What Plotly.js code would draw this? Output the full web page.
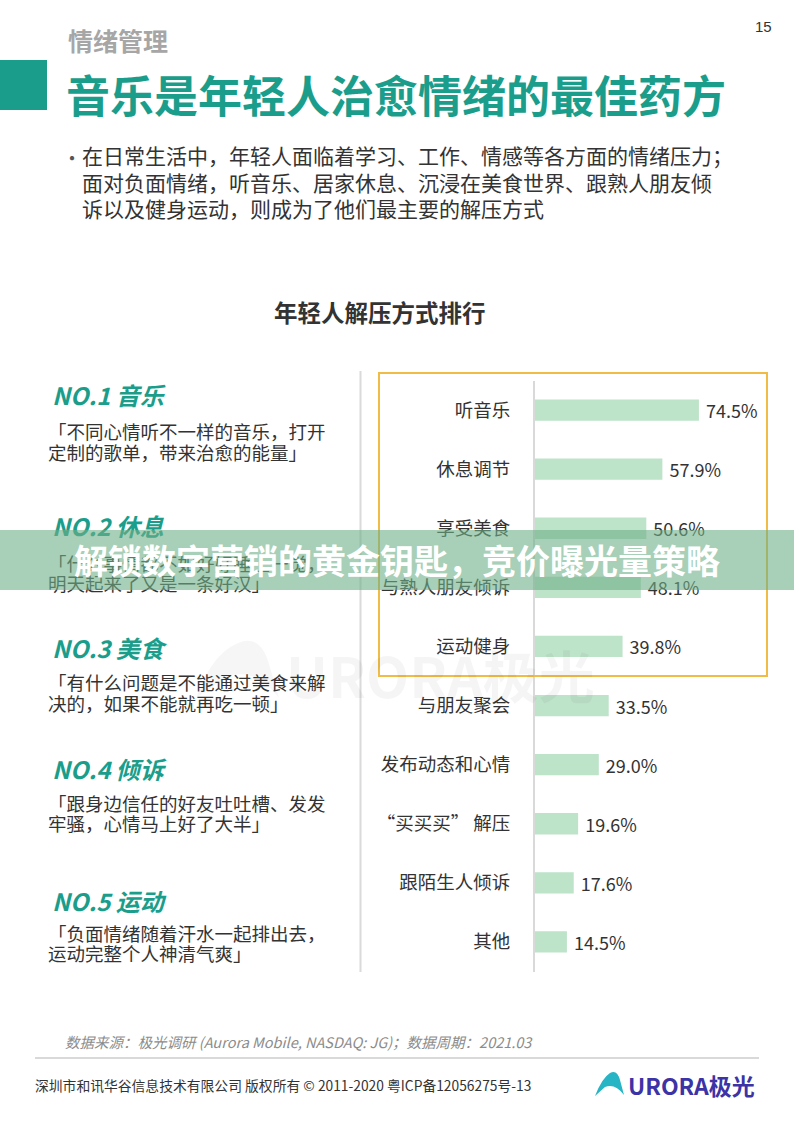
<!DOCTYPE html>
<html>
<head>
<meta charset="utf-8">
<script src="https://cdn.plot.ly/plotly-3.0.1.min.js"></script>
<style>
  html, body { margin: 0; padding: 0; background: #fff; }
  #wrap { position: relative; width: 794px; height: 1123px; overflow: hidden; }
  #chart { position: absolute; left: 0; top: 0; width: 794px; height: 1123px; }
  #banner {
    position: absolute; left: 0; top: 530px; width: 794px; height: 60px;
    background: rgba(110, 175, 135, 0.6);
    color: #fff; font-family: "Noto Sans CJK SC", sans-serif; font-weight: 700;
    font-size: 34px; line-height: 60px; text-align: center; letter-spacing: 0px;
    pointer-events: none;
  }
</style>
</head>
<body>
<div id="wrap">
  <div id="chart"></div>
  <div id="banner">解锁数字营销的黄金钥匙，竞价曝光量策略</div>
</div>
<script>
// ---------- data ----------
const categories = ['听音乐', '休息调节', '享受美食', '与熟人朋友倾诉', '运动健身',
                    '与朋友聚会', '发布动态和心情', '“买买买” 解压', '跟陌生人倾诉', '其他'];
const values = [74.5, 57.9, 50.6, 48.1, 39.8, 33.5, 29.0, 19.6, 17.6, 14.5];

const pageLabel = '情绪管理';
const pageNumber = '15';
const mainTitle = '音乐是年轻人治愈情绪的最佳药方';
const bulletLines = [
  '在日常生活中，年轻人面临着学习、工作、情感等各方面的情绪压力；',
  '面对负面情绪，听音乐、居家休息、沉浸在美食世界、跟熟人朋友倾',
  '诉以及健身运动，则成为了他们最主要的解压方式'
];
const chartTitle = '年轻人解压方式排行';
const rankTitles = ['NO.1 音乐', 'NO.2 休息', 'NO.3 美食', 'NO.4 倾诉', 'NO.5 运动'];
const rankQuotes = [
  ['「不同心情听不一样的音乐，打开', '定制的歌单，带来治愈的能量」'],
  ['「什么事情都不如好好睡上一觉，', '明天起来了又是一条好汉」'],
  ['「有什么问题是不能通过美食来解', '决的，如果不能就再吃一顿」'],
  ['「跟身边信任的好友吐吐槽、发发', '牢骚，心情马上好了大半」'],
  ['「负面情绪随着汗水一起排出去，', '运动完整个人神清气爽」']
];
const sourceText = '数据来源：极光调研 (Aurora Mobile, NASDAQ: JG)；数据周期：2021.03';
const copyrightText = '深圳市和讯华谷信息技术有限公司 版权所有 © 2011-2020 粤ICP备12056275号-13';
const logoText = 'URORA极光';

// ---------- layout helpers ----------
const W = 794, H = 1123;
const px = x => x / W;
const py = y => 1 - y / H;
const CJK = '"Noto Sans CJK SC", "Noto Sans", sans-serif';
const TEAL = '#1a9e8b';
const DARK = '#333333';

function ann(text, x, y, opt) {
  opt = opt || {};
  return Object.assign({
    text: text, x: px(x), y: py(y), xref: 'paper', yref: 'paper',
    xanchor: opt.xanchor || 'left', yanchor: 'middle', showarrow: false,
    align: 'left', borderpad: 0,
    font: Object.assign({family: CJK, size: 18, color: DARK}, opt.font || {})
  }, opt.extra || {});
}
function pathPx(cmds) {
  return cmds.map(c => {
    const L = c[0]; const nums = [];
    for (let i = 1; i < c.length; i += 2) nums.push(px(c[i]) + ',' + py(c[i + 1]));
    return L + nums.join(' ');
  }).join(' ') + ' Z';
}

const annotations = [];
annotations.push(ann(pageLabel, 67, 40, {font: {size: 25, color: '#a6a6a6', weight: 700}}));
annotations.push(ann(pageNumber, 763, 27, {xanchor: 'center', font: {size: 15, color: DARK, family: '"Liberation Sans Narrow", "Liberation Sans", sans-serif'}}));
annotations.push(ann(mainTitle, 65, 94, {font: {size: 44, color: TEAL, weight: 700}}));
annotations.push(ann('•', 61, 158, {font: {size: 20, color: '#555'}}));
const bulletY = [155, 182, 208];
bulletLines.forEach((t, i) => annotations.push(ann(t, 81, bulletY[i], {font: {size: 21, color: DARK}})));
annotations.push(ann(chartTitle, 380, 312, {xanchor: 'center', font: {size: 23.5, color: DARK, weight: 700}}));

const headY = [394, 525, 647, 768, 900];
const quoteY = [[431, 452], [563, 583], [682, 703], [803, 823], [933, 953]];
rankTitles.forEach((t, i) => {
  annotations.push(ann(t, 51, headY[i], {font: {size: 24, color: TEAL, weight: 700, style: 'italic'}}));
  rankQuotes[i].forEach((q, j) => annotations.push(ann(q, 47, quoteY[i][j], {font: {size: 18.5, color: DARK}})));
});

// watermark
annotations.push(ann(logoText, 285, 673, {font: {size: 56, color: 'rgba(0,0,0,0.04)', weight: 700, family: '"Noto Sans CJK SC", sans-serif'}}));

// footer
annotations.push(ann(sourceText, 64, 1041, {font: {size: 14.5, color: '#8c8c8c', style: 'italic'}}));
annotations.push(ann(copyrightText, 34, 1085, {font: {size: 13.8, color: DARK}}));
annotations.push(ann(logoText, 627, 1085, {font: {size: 23, color: '#3b33a6', weight: 700}}));

const shapes = [
  {type: 'rect', xref: 'paper', yref: 'paper', x0: px(0), x1: px(47), y0: py(60), y1: py(110),
   fillcolor: TEAL, line: {width: 0}, layer: 'below'},
  {type: 'line', xref: 'paper', yref: 'paper', x0: px(360.5), x1: px(360.5), y0: py(371), y1: py(972),
   line: {color: '#dadada', width: 2}, layer: 'below'},
  {type: 'rect', xref: 'paper', yref: 'paper', x0: px(379), x1: px(767), y0: py(373), y1: py(676),
   fillcolor: 'rgba(0,0,0,0)', line: {color: '#f1bc45', width: 2}, layer: 'above'},
  {type: 'line', xref: 'paper', yref: 'paper', x0: px(35), x1: px(759), y0: py(1058), y1: py(1058),
   line: {color: '#d9d9d9', width: 2}, layer: 'below'},
  {type: 'path', xref: 'paper', yref: 'paper', layer: 'below',
   path: pathPx([['M', 196, 698], ['Q', 214, 648, 244, 641], ['Q', 262, 638, 269, 664], ['L', 279, 698], ['Q', 256, 668, 228, 676]]),
   fillcolor: 'rgba(0,0,0,0.035)', line: {width: 0}},
  {type: 'path', xref: 'paper', yref: 'paper', layer: 'below',
   path: pathPx([['M', 595, 1096], ['Q', 602, 1078, 610, 1073], ['Q', 617, 1069, 620, 1080], ['L', 624, 1095], ['Q', 615, 1083, 605, 1087]]),
   fillcolor: '#27b4c4', line: {width: 0}}
];

const trace = {
  type: 'bar', orientation: 'h',
  y: categories, x: values,
  marker: {color: '#bde3c9', line: {width: 0}},
  width: 0.36,
  text: values.map(v => '\u00a0' + v.toFixed(1) + '%'),
  textposition: 'outside', cliponaxis: false, constraintext: 'none',
  textfont: {family: CJK, size: 18, color: DARK},
  hoverinfo: 'skip'
};

const layout = {
  width: W, height: H,
  margin: {l: 0, r: 0, t: 0, b: 0, pad: 0},
  paper_bgcolor: '#ffffff', plot_bgcolor: 'rgba(0,0,0,0)',
  showlegend: false,
  font: {family: CJK, color: DARK},
  xaxis: {domain: [px(535), px(755)], range: [0, 100], visible: false, fixedrange: true},
  yaxis: {
    domain: [py(971.5), py(380.5)],
    type: 'category', categoryorder: 'array', categoryarray: categories,
    autorange: 'reversed',
    showline: true, linecolor: '#d9d9d9', linewidth: 2,
    ticks: 'outside', ticklen: 19, tickcolor: 'rgba(0,0,0,0)',
    tickfont: {family: CJK, size: 18.5, color: DARK},
    showgrid: false, zeroline: false, fixedrange: true
  },
  annotations: annotations,
  shapes: shapes
};

Plotly.newPlot('chart', [trace], layout, {staticPlot: true, displayModeBar: false});
</script>
</body>
</html>
